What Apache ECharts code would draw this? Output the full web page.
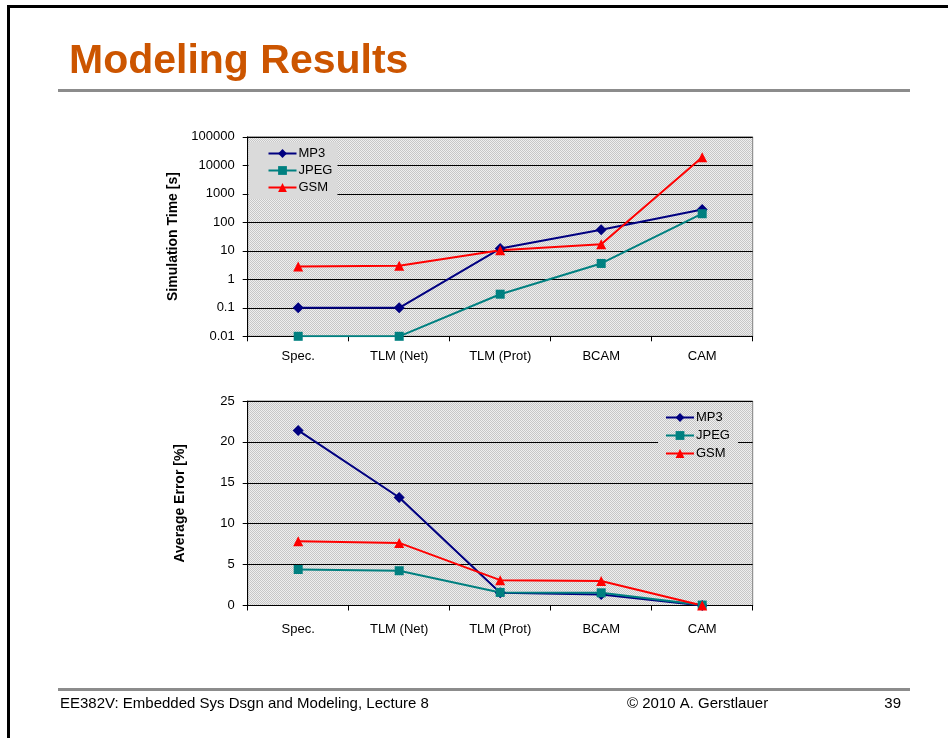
<!DOCTYPE html>
<html>
<head>
<meta charset="utf-8">
<title>Modeling Results</title>
<script src="https://cdn.jsdelivr.net/npm/echarts@6/dist/echarts.min.js"></script>
<style>
  html, body { margin: 0; padding: 0; background: #ffffff; }
  #slide { width: 948px; height: 738px; }
</style>
</head>
<body>
<div id="slide"></div>
<script>
// Abstraction levels on the x axis of both plots
const categories = ['Spec.', 'TLM (Net)', 'TLM (Prot)', 'BCAM', 'CAM'];
const seriesNames = ['MP3', 'JPEG', 'GSM'];

// Simulation time in seconds (log scale)
const simMP3  = [0.1, 0.1, 12, 55, 280];
const simJPEG = [0.01, 0.01, 0.3, 3.6, 200];
const simGSM  = [2.8, 3.0, 10.5, 17, 19000];

// Average error in percent
const errMP3  = [21.4, 13.2, 1.55, 1.35, 0];
const errJPEG = [4.4, 4.25, 1.6, 1.55, 0.05];
const errGSM  = [7.85, 7.65, 3.1, 3.0, 0];

// Axis tick labels
const simTickLabels = ['0.01', '0.1', '1', '10', '100', '1000', '10000', '100000'];
const errTickLabels = ['0', '5', '10', '15', '20', '25'];

const FONT = "'Liberation Sans', Arial, Helvetica, sans-serif";

// Fine dotted fill for the plot areas
function dotPattern() {
  const c = document.createElement('canvas');
  c.width = 2; c.height = 2;
  const g = c.getContext('2d');
  g.fillStyle = '#eeeeee'; g.fillRect(0, 0, 2, 2);
  g.fillStyle = '#c6c6c6'; g.fillRect(0, 0, 1, 1); g.fillRect(1, 1, 1, 1);
  return { image: c, repeat: 'repeat' };
}
const plotFill = dotPattern();

const styles = {
  MP3:  { color: '#000080', symbol: 'diamond',  size: 11 },
  JPEG: { color: '#008080', symbol: 'rect',     size: 9 },
  GSM:  { color: '#ff0000', symbol: 'triangle', size: 10 }
};

function lineSeries(name, data, idx) {
  const s = styles[name];
  return {
    name: name,
    type: 'line',
    xAxisIndex: idx,
    yAxisIndex: idx,
    data: data,
    symbol: s.symbol,
    symbolSize: s.size,
    showAllSymbol: true,
    lineStyle: { color: s.color, width: 2 },
    itemStyle: { color: s.color },
    emphasis: { disabled: true },
    animation: false,
    z: 3
  };
}

function xAxisDef(idx, margin) {
  return {
    type: 'category',
    gridIndex: idx,
    data: categories,
    boundaryGap: true,
    axisLine: { lineStyle: { color: '#000000', width: 1 } },
    axisTick: { show: true, length: 5, lineStyle: { color: '#000000' } },
    axisLabel: { color: '#000000', fontSize: 13, fontFamily: FONT, margin: margin },
    splitLine: { show: false }
  };
}

const simLabelSet = new Set(simTickLabels);
const errLabelSet = new Set(errTickLabels);

function legendDef(left, top, gap, padding) {
  return {
    data: seriesNames, orient: 'vertical', left: left, top: top,
    itemWidth: 28, itemHeight: 11, itemGap: gap,
    padding: padding,
    backgroundColor: plotFill,
    textStyle: { fontSize: 13, fontFamily: FONT, color: '#000000', padding: [0, 0, 0, -3] },
    selectedMode: false
  };
}

const footFont = "15px 'Liberation Sans', Arial, sans-serif";

const option = {
  backgroundColor: '#ffffff',
  animation: false,
  grid: [
    { left: 247.7, top: 136.8, width: 505, height: 199.5, show: true,
      backgroundColor: plotFill, borderColor: '#808080', borderWidth: 1 },
    { left: 247.7, top: 401, width: 505, height: 204.5, show: true,
      backgroundColor: plotFill, borderColor: '#808080', borderWidth: 1 }
  ],
  xAxis: [xAxisDef(0, 14), xAxisDef(1, 17)],
  yAxis: [
    {
      type: 'log', gridIndex: 0, logBase: 10, min: 0.01, max: 100000,
      name: 'Simulation Time [s]', nameLocation: 'middle', nameRotate: 90, nameGap: 67,
      nameTextStyle: { fontSize: 14, fontWeight: 'bold', fontFamily: FONT, color: '#000000' },
      axisLine: { show: true, lineStyle: { color: '#000000' } },
      axisTick: { show: true, length: 5, lineStyle: { color: '#000000' } },
      axisLabel: {
        color: '#000000', fontSize: 13, fontFamily: FONT, margin: 13,
        formatter: function (v) {
          const t = String(Number(v.toPrecision(6)));
          return simLabelSet.has(t) ? t : '';
        }
      },
      minorTick: { show: false },
      splitLine: { show: true, lineStyle: { color: '#000000', width: 1 } }
    },
    {
      type: 'value', gridIndex: 1, min: 0, max: 25, interval: 5,
      name: 'Average Error [%]', nameLocation: 'middle', nameRotate: 90, nameGap: 61,
      nameTextStyle: { fontSize: 14, fontWeight: 'bold', fontFamily: FONT, color: '#000000' },
      axisLine: { show: true, lineStyle: { color: '#000000' } },
      axisTick: { show: true, length: 5, lineStyle: { color: '#000000' } },
      axisLabel: {
        color: '#000000', fontSize: 13, fontFamily: FONT, margin: 13,
        formatter: function (v) {
          const t = String(v);
          return errLabelSet.has(t) ? t : '';
        }
      },
      splitLine: { show: true, lineStyle: { color: '#000000', width: 1 } }
    }
  ],
  legend: [
    legendDef(248.5, 142, 4, [5, 5, 5, 19]),
    legendDef(658, 408, 5, [3, 8, 3, 7])
  ],
  series: [
    lineSeries('MP3', simMP3, 0),
    lineSeries('JPEG', simJPEG, 0),
    lineSeries('GSM', simGSM, 0),
    lineSeries('MP3', errMP3, 1),
    lineSeries('JPEG', errJPEG, 1),
    lineSeries('GSM', errGSM, 1)
  ],
  graphic: [
    // slide frame
    { type: 'rect', left: 7, top: 5, shape: { width: 941, height: 3 }, style: { fill: '#000000' }, silent: true },
    { type: 'rect', left: 7, top: 5, shape: { width: 3, height: 733 }, style: { fill: '#000000' }, silent: true },
    // heading
    { type: 'text', left: 69, top: 41,
      style: { text: 'Modeling Results', fill: '#cc5500', font: "bold 41px 'Liberation Sans', Arial, sans-serif" } },
    { type: 'rect', left: 58, top: 89, shape: { width: 852, height: 3 }, style: { fill: '#8c8c8c' }, silent: true },
    // footer
    { type: 'rect', left: 58, top: 688, shape: { width: 852, height: 3 }, style: { fill: '#8c8c8c' }, silent: true },
    { type: 'text', left: 60, top: 696,
      style: { text: 'EE382V: Embedded Sys Dsgn and Modeling, Lecture 8', fill: '#000000', font: footFont } },
    { type: 'text', left: 627, top: 696,
      style: { text: '\u00A9 2010 A. Gerstlauer', fill: '#000000', font: footFont } },
    { type: 'text', right: 47, top: 696,
      style: { text: '39', fill: '#000000', font: footFont } }
  ]
};

const chart = echarts.init(document.getElementById('slide'), null, { renderer: 'canvas', width: 948, height: 738 });
chart.setOption(option);
</script>
</body>
</html>
